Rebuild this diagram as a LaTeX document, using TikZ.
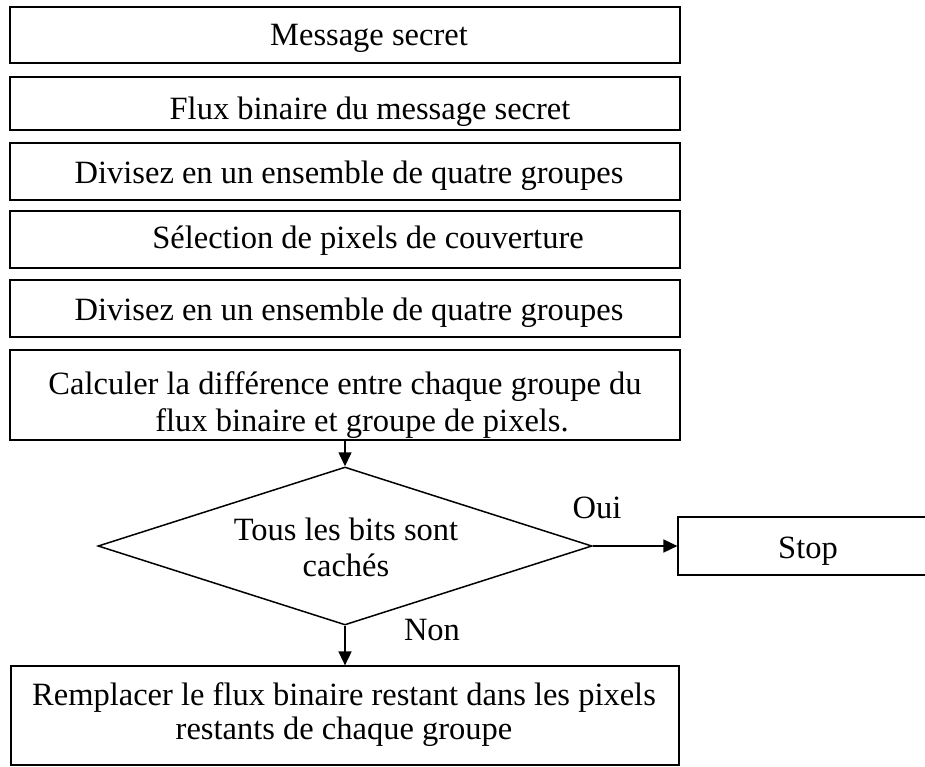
\documentclass[tikz,border=0pt]{standalone}
\usepackage{fontspec}
\setmainfont{Liberation Serif}
\usetikzlibrary{arrows.meta,shapes.geometric}
\begin{document}
\begin{tikzpicture}[x=1pt,y=-1pt,
  procbox/.style={draw, line width=1.6pt, rectangle, inner sep=0pt, minimum width=670pt},
  thinbox/.style={draw, line width=1.2pt, rectangle, inner sep=0pt},
  decbox/.style={draw, line width=1.5pt, diamond, inner sep=0pt, minimum width=494pt, minimum height=158pt},
  lbl/.style={anchor=base, inner sep=0pt, font=\fontsize{32.5}{36}\selectfont},
  flow/.style={line width=1.6pt, -{Triangle[length=14pt,width=13pt]}}]
\useasboundingbox (0,0) rectangle (925,767);
% boxes
\node[procbox, minimum height=56pt] (b1) at (345,35) {};
\node[procbox, minimum height=53pt] (b2) at (345,103.5) {};
\node[procbox, minimum height=57pt] (b3) at (345,171.5) {};
\node[procbox, minimum height=57pt] (b4) at (345,239.5) {};
\node[procbox, minimum height=57pt] (b5) at (345,308.5) {};
\node[procbox, minimum height=90pt] (b6) at (345,395) {};
\node[decbox] (dec) at (345,546) {};
\node[thinbox, minimum width=254pt, minimum height=58pt] (stop) at (805,546) {};
\node[thinbox, minimum width=668pt, minimum height=99pt] (last) at (345,715.5) {};
% texts
\node[lbl] (t1) at (369,46) {Message secret};
\node[lbl] (t2) at (370,120) {Flux binaire du message secret};
\node[lbl] (t3) at (349,184) {Divisez en un ensemble de quatre groupes};
\node[lbl] (t4) at (368,248) {Sélection de pixels de couverture};
\node[lbl] (t5) at (349,320) {Divisez en un ensemble de quatre groupes};
\node[lbl] (t6a) at (345,394) {Calculer la différence entre chaque groupe du};
\node[lbl] (t6b) at (362,431) {flux binaire et groupe de pixels.};
\node[lbl] (t7a) at (346,540) {Tous les bits sont};
\node[lbl] (t7b) at (346,576) {cachés};
\node[lbl] (t8) at (808,558) {Stop};
\node[lbl] (t9a) at (344,705) {Remplacer le flux binaire restant dans les pixels};
\node[lbl] (t9b) at (344,739) {restants de chaque groupe};
\node[lbl] (oui) at (597,518) {Oui};
\node[lbl] (non) at (432,640) {Non};
% connectors
\draw[flow] (b6.south) -- (dec.north);
\draw[flow] (dec.east) -- (stop.west);
\draw[flow] (dec.south) -- (last.north);
\end{tikzpicture}
\end{document}
